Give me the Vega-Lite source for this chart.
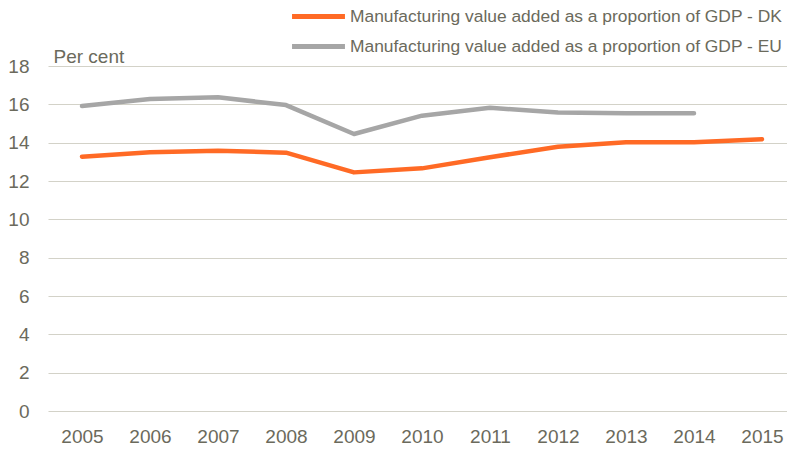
{
  "$schema": "https://vega.github.io/schema/vega-lite/v6.json",
  "width": 748,
  "height": 345,
  "autosize": {"type": "none"},
  "padding": {"left": 48, "top": 66, "right": 0, "bottom": 39},
  "background": "white",
  "config": {
    "view": {"stroke": null},
    "font": "Liberation Sans, Arial, sans-serif"
  },
  "data": {
    "values": [
      {"year": "2005", "series": "Manufacturing value added as a proportion of GDP - DK", "value": 13.27},
      {"year": "2006", "series": "Manufacturing value added as a proportion of GDP - DK", "value": 13.5},
      {"year": "2007", "series": "Manufacturing value added as a proportion of GDP - DK", "value": 13.58},
      {"year": "2008", "series": "Manufacturing value added as a proportion of GDP - DK", "value": 13.48},
      {"year": "2009", "series": "Manufacturing value added as a proportion of GDP - DK", "value": 12.45},
      {"year": "2010", "series": "Manufacturing value added as a proportion of GDP - DK", "value": 12.66},
      {"year": "2011", "series": "Manufacturing value added as a proportion of GDP - DK", "value": 13.24},
      {"year": "2012", "series": "Manufacturing value added as a proportion of GDP - DK", "value": 13.79},
      {"year": "2013", "series": "Manufacturing value added as a proportion of GDP - DK", "value": 14.02},
      {"year": "2014", "series": "Manufacturing value added as a proportion of GDP - DK", "value": 14.02},
      {"year": "2015", "series": "Manufacturing value added as a proportion of GDP - DK", "value": 14.18},
      {"year": "2005", "series": "Manufacturing value added as a proportion of GDP - EU", "value": 15.91},
      {"year": "2006", "series": "Manufacturing value added as a proportion of GDP - EU", "value": 16.28},
      {"year": "2007", "series": "Manufacturing value added as a proportion of GDP - EU", "value": 16.37},
      {"year": "2008", "series": "Manufacturing value added as a proportion of GDP - EU", "value": 15.96},
      {"year": "2009", "series": "Manufacturing value added as a proportion of GDP - EU", "value": 14.45},
      {"year": "2010", "series": "Manufacturing value added as a proportion of GDP - EU", "value": 15.41},
      {"year": "2011", "series": "Manufacturing value added as a proportion of GDP - EU", "value": 15.82},
      {"year": "2012", "series": "Manufacturing value added as a proportion of GDP - EU", "value": 15.58},
      {"year": "2013", "series": "Manufacturing value added as a proportion of GDP - EU", "value": 15.53},
      {"year": "2014", "series": "Manufacturing value added as a proportion of GDP - EU", "value": 15.53}
    ]
  },
  "mark": {"type": "line", "strokeWidth": 4.5, "strokeCap": "round", "strokeJoin": "round"},
  "encoding": {
    "x": {
      "field": "year",
      "type": "ordinal",
      "scale": {"type": "point", "padding": 0.5},
      "axis": {
        "title": null,
        "labelAngle": 0,
        "labelFontSize": 19,
        "labelColor": "#6b6a5c",
        "labelPadding": 16,
        "ticks": false,
        "domain": false,
        "grid": false
      }
    },
    "y": {
      "field": "value",
      "type": "quantitative",
      "scale": {"domain": [0, 18], "nice": false},
      "axis": {
        "values": [0, 2, 4, 6, 8, 10, 12, 14, 16, 18],
        "title": "Per cent",
        "titleAngle": 0,
        "titleAlign": "left",
        "titleBaseline": "alphabetic",
        "titleX": 5,
        "titleY": -4,
        "titleFontSize": 19,
        "titleFontWeight": "normal",
        "titleColor": "#6b6a5c",
        "labelFontSize": 19,
        "labelColor": "#6b6a5c",
        "labelPadding": 19,
        "ticks": false,
        "domain": false,
        "grid": true,
        "gridColor": "#d3d2c8",
        "gridWidth": 1.2
      }
    },
    "color": {
      "field": "series",
      "type": "nominal",
      "scale": {
        "domain": ["Manufacturing value added as a proportion of GDP - DK", "Manufacturing value added as a proportion of GDP - EU"],
        "range": ["#ff6a25", "#a6a6a6"]
      },
      "legend": {
        "title": null,
        "orient": "none",
        "legendX": 261,
        "legendY": -59,
        "symbolType": "M-4,0H4",
        "symbolSize": 175,
        "symbolStrokeWidth": 5,
        "labelFontSize": 17.4,
        "labelColor": "#6b6a5c",
        "labelOffset": 22,
        "labelLimit": 600,
        "rowPadding": 9
      }
    }
  }
}
